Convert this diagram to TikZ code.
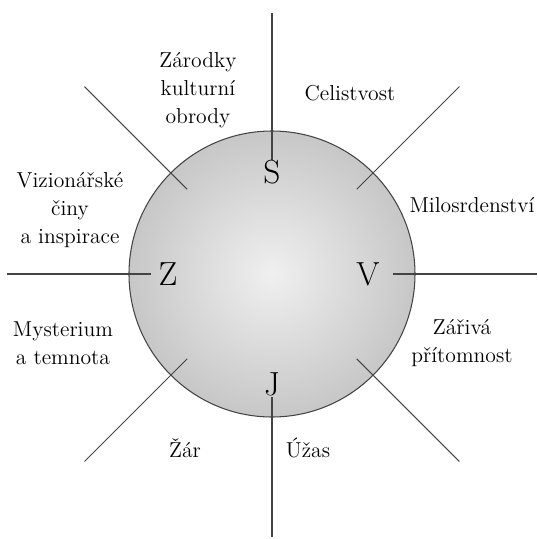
\documentclass[tikz,border=0pt]{standalone}
\usepackage{tikz}
\definecolor{lineink}{RGB}{68, 68, 68}
\pgfdeclareradialshading{ballshade}{\pgfpoint{0bp}{0bp}}{%
  color(0bp)=(white!94!black); color(25bp)=(white!78!black);
  color(50bp)=(white!58!black)}

\begin{document}
\begin{tikzpicture}[x=0.02cm, y=0.02cm,
  label/.style={align=center, font=\fontsize{12.3}{16}\selectfont},
  pole/.style={font=\fontsize{19}{20}\selectfont}]
  \useasboundingbox (-272,-265) rectangle (266,274);
  \coordinate (c) at (0,0);
  \shade[shading=ballshade, draw=lineink, line width=0.6pt] (c) circle (143);
  % axes
  \draw[lineink, line width=0.6pt] (0,261) -- (0,114);
  \draw[lineink, line width=0.6pt] (0,-123) -- (0,-263);
  \draw[lineink, line width=0.6pt] (-265,0) -- (-121,0);
  \draw[lineink, line width=0.6pt] (121,0) -- (265,0);
  \foreach \a in {45,135,225,315}
    \draw[lineink, line width=0.6pt] (c) ++(\a:120) -- ++(\a:145);
  \node[pole] (s) at (0,102) {S};
  \node[pole] (z) at (-104,0) {Z};
  \node[pole] (v) at (96,0) {V};
  \node[pole] (j) at (0,-110) {J};
  \node[label] (nw) at (-74,184) {Zárodky\\kulturní\\obrody};
  \node[label] (ne) at (78,181) {Celistvost};
  \node[label] (wn) at (-202,64) {Vizionářské\\činy\\a inspirace};
  \node[label] (en) at (200,69) {Milosrdenství};
  \node[label] (ws) at (-209,-69) {Mysterium\\a temnota};
  \node[label] (es) at (190,-69) {Zářivá\\přítomnost};
  \node[label] (sw) at (-87,-174) {Žár};
  \node[label] (se) at (36,-174) {Úžas};
\end{tikzpicture}
\end{document}
